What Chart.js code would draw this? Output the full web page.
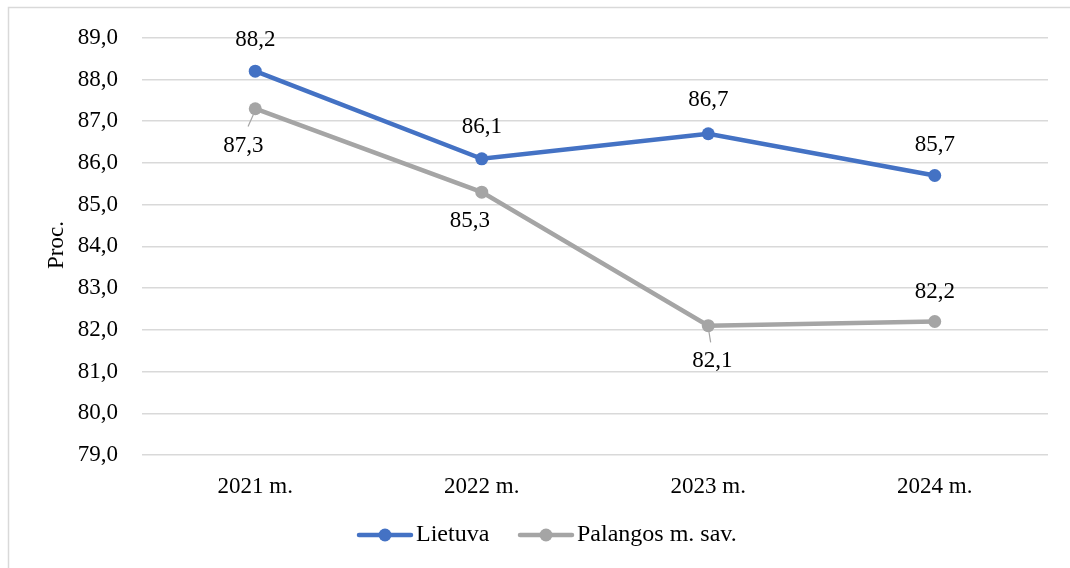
<!DOCTYPE html>
<html>
<head>
<meta charset="utf-8">
<script src="https://cdn.jsdelivr.net/npm/chart.js@4.4.1/dist/chart.umd.min.js"></script>
<style>
html,body{margin:0;padding:0;background:#fff;}
#wrap{position:relative;width:1070px;height:568px;}
canvas{display:block;}
</style>
</head>
<body>
<div id="wrap"><canvas id="c" width="1070" height="568"></canvas></div>
<script>
const categories = ['2021 m.', '2022 m.', '2023 m.', '2024 m.'];
const lietuva = [88.2, 86.1, 86.7, 85.7];
const palanga = [87.3, 85.3, 82.1, 82.2];
const seriesNames = ['Lietuva', 'Palangos m. sav.'];
const yTicks = [79, 80, 81, 82, 83, 84, 85, 86, 87, 88, 89];

const BLUE = '#4472C4';
const GRAY = '#A5A5A5';
const FONT = '"Liberation Serif", "Times New Roman", serif';
const FS = 23;
const fmt = v => v.toFixed(1).replace('.', ',');

// label placement (dx, dy from point, leader line flag)
const labelPlacement = [
  [[0,-31,false],[0,-32,false],[0,-34,false],[0,-31,false]],
  [[-12,37,true],[-12,29,false],[4,35,true],[0,-30,false]]
];

const decorPlugin = {
  id: 'decor',
  beforeDraw(chart) {
    const ctx = chart.ctx;
    ctx.save();
    ctx.fillStyle = '#fff';
    ctx.fillRect(0, 0, chart.width, chart.height);
    ctx.strokeStyle = '#d9d9d9';
    ctx.lineWidth = 1.5;
    ctx.strokeRect(8.5, 7.5, chart.width + 20, chart.height + 20);
    ctx.restore();
  },
  afterDraw(chart) {
    const ctx = chart.ctx;
    ctx.save();
    ctx.font = FS + 'px ' + FONT;
    ctx.fillStyle = '#000';
    ctx.textAlign = 'center';
    ctx.textBaseline = 'middle';
    chart.data.datasets.forEach((ds, di) => {
      const meta = chart.getDatasetMeta(di);
      meta.data.forEach((pt, i) => {
        const [dx, dy, leader] = labelPlacement[di][i];
        const lx = pt.x + dx, ly = pt.y + dy;
        if (leader) {
          ctx.save();
          ctx.strokeStyle = GRAY;
          ctx.lineWidth = 1.2;
          ctx.beginPath();
          const ang = Math.atan2(dy, dx);
          ctx.moveTo(pt.x + Math.cos(ang) * 6, pt.y + Math.sin(ang) * 6);
          ctx.lineTo(pt.x + dx * 0.6, pt.y + dy * 0.48);
          ctx.stroke();
          ctx.restore();
        }
        ctx.fillText(fmt(ds.data[i]), lx, ly);
      });
    });
    ctx.save();
    ctx.translate(57, 245);
    ctx.rotate(-Math.PI / 2);
    ctx.font = FS + 'px ' + FONT;
    ctx.fillText('Proc.', 0, 0);
    ctx.restore();
    const items = [
      {name: seriesNames[0], color: BLUE, x: 357},
      {name: seriesNames[1], color: GRAY, x: 518}
    ];
    const ly = 535;
    items.forEach(it => {
      ctx.strokeStyle = it.color;
      ctx.lineWidth = 4.5;
      ctx.lineCap = 'round';
      ctx.beginPath();
      ctx.moveTo(it.x + 2, ly);
      ctx.lineTo(it.x + 54, ly);
      ctx.stroke();
      ctx.fillStyle = it.color;
      ctx.beginPath();
      ctx.arc(it.x + 28, ly, 6.5, 0, Math.PI * 2);
      ctx.fill();
      ctx.fillStyle = '#000';
      ctx.font = '24px ' + FONT;
      ctx.textAlign = 'left';
      ctx.fillText(it.name, it.x + 59, ly);
    });
    ctx.restore();
  }
};

new Chart(document.getElementById('c'), {
  type: 'line',
  data: {
    labels: categories,
    datasets: [
      {label: seriesNames[0], data: lietuva, borderColor: BLUE, backgroundColor: BLUE,
       borderWidth: 4.5, pointRadius: 6.5, pointHoverRadius: 6.5, pointBackgroundColor: BLUE, pointBorderWidth: 0, tension: 0},
      {label: seriesNames[1], data: palanga, borderColor: GRAY, backgroundColor: GRAY,
       borderWidth: 4.5, pointRadius: 6.5, pointHoverRadius: 6.5, pointBackgroundColor: GRAY, pointBorderWidth: 0, tension: 0}
    ]
  },
  options: {
    responsive: false,
    animation: false,
    events: [],
    layout: {padding: {left: 0, right: 22, top: 36, bottom: 0}},
    plugins: {legend: {display: false}, tooltip: {enabled: false}},
    scales: {
      x: {
        offset: true,
        grid: {display: false, drawTicks: false, offset: true},
        border: {display: false},
        ticks: {color: '#000', font: {family: FONT, size: FS}, padding: 18, maxRotation: 0},
        afterFit: s => { s.height = 113; }
      },
      y: {
        min: 79, max: 89,
        afterBuildTicks: s => { s.ticks = yTicks.map(v => ({value: v})); },
        grid: {color: '#d9d9d9', lineWidth: 1.5, drawTicks: false},
        border: {display: false},
        ticks: {color: '#000', font: {family: FONT, size: FS}, padding: 24, callback: v => fmt(v)},
        afterFit: s => { s.width = 142; }
      }
    }
  },
  plugins: [decorPlugin]
});
</script>
</body>
</html>
